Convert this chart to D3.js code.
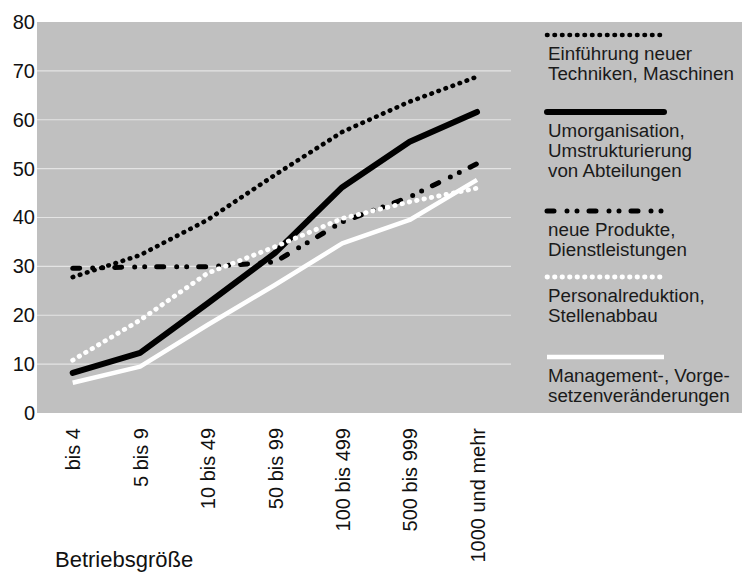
<!DOCTYPE html>
<html><head><meta charset="utf-8">
<script src="https://cdn.jsdelivr.net/npm/d3@7"></script>
<style>
html,body{margin:0;padding:0;background:#fff;}
svg{display:block;font-family:"Liberation Sans",Arial,sans-serif;}
</style></head>
<body>
<svg id="chart" width="742" height="572"></svg>
<script>
const categories = ["bis 4","5 bis 9","10 bis 49","50 bis 99","100 bis 499","500 bis 999","1000 und mehr"];
const yTicks = [0,10,20,30,40,50,60,70,80];
const seriesNames = [
  ["Einführung neuer","Techniken, Maschinen"],
  ["Umorganisation,","Umstrukturierung","von Abteilungen"],
  ["neue Produkte,","Dienstleistungen"],
  ["Personalreduktion,","Stellenabbau"],
  ["Management-, Vorge-","setzenveränderungen"]
];
const einfuehrung   = [27.8, 32.3, 39.5, 48.7, 57.5, 63.7, 68.8];
const umorganisation= [8.2, 12.3, 22.4, 32.7, 46.2, 55.5, 61.6];
const neueProdukte  = [29.6, 29.9, 29.9, 30.9, 39.1, 44.2, 51.0];
const personal      = [10.8, 19.0, 28.6, 34.0, 39.8, 43.2, 46.0];
const management    = [6.2, 9.5, 18.0, 26.2, 34.7, 39.5, 47.7];
const xTitle = "Betriebsgröße";

const seriesValues = [einfuehrung, umorganisation, neueProdukte, personal, management];
const styles = [
  {color:"#000", width:4.6, dash:"0.5 7",            cap:"round"},
  {color:"#000", width:6,   dash:null,               cap:"round"},
  {color:"#000", width:5,   dash:"7 13 0 10 0 12",   cap:"round"},
  {color:"#fff", width:4.8, dash:"0.5 7",            cap:"round"},
  {color:"#fff", width:4.5, dash:null,               cap:"butt"}
];
const legendLineY = [35, 112, 211, 277, 357];

const svg = d3.select("#chart");
const panel = {x0:37, x1:742, y0:22, y1:413};
svg.append("rect").attr("x",panel.x0).attr("y",panel.y0)
  .attr("width",panel.x1-panel.x0).attr("height",panel.y1-panel.y0).attr("fill","#c0c0c0");

const x = d3.scalePoint().domain(categories).range([72.7, 477]);
const y = d3.scaleLinear().domain([0,80]).range([panel.y1, panel.y0]);

// gridlines
svg.append("g").selectAll("line").data(yTicks.filter(t=>t>0 && t<80)).join("line")
  .attr("x1",panel.x0).attr("x2",511)
  .attr("y1",d=>y(d)).attr("y2",d=>y(d))
  .attr("stroke","#e4e4e4").attr("stroke-width",1.2);

// y axis
const yAxis = svg.append("g").attr("transform",`translate(${panel.x0-2},0)`)
  .call(d3.axisLeft(y).tickValues(yTicks).tickSize(0).tickPadding(0));
yAxis.select(".domain").remove();
yAxis.selectAll("text").attr("font-size",20).attr("fill","#111")
  .attr("font-family","Liberation Sans, Arial, sans-serif");

// x axis
const xAxis = svg.append("g").attr("transform",`translate(0,${panel.y1})`)
  .call(d3.axisBottom(x).tickSize(0).tickPadding(0));
xAxis.select(".domain").remove();
xAxis.selectAll("text")
  .attr("font-size",20).attr("fill","#111")
  .attr("font-family","Liberation Sans, Arial, sans-serif")
  .attr("text-anchor","end")
  .attr("transform","rotate(-90)")
  .attr("x",-15).attr("y",0).attr("dy","0.36em");

svg.append("text").attr("x",55).attr("y",567).attr("font-size",22)
  .attr("fill","#111").text(xTitle);

// lines
const line = d3.line().x((d,i)=>x(categories[i])).y(d=>y(d));
seriesValues.forEach((vals,k)=>{
  const s = styles[k];
  svg.append("path").datum(vals).attr("d",line)
    .attr("fill","none").attr("stroke",s.color).attr("stroke-width",s.width)
    .attr("stroke-dasharray",s.dash).attr("stroke-linecap",s.cap)
    .attr("stroke-linejoin","round");
});

// legend
seriesNames.forEach((lines,k)=>{
  const s = styles[k];
  const ly = legendLineY[k];
  svg.append("line").attr("x1",547).attr("x2",664).attr("y1",ly).attr("y2",ly)
    .attr("stroke",s.color).attr("stroke-width",s.width)
    .attr("stroke-dasharray",s.dash).attr("stroke-linecap",s.cap);
  const t = svg.append("text").attr("font-size",18.8).attr("fill","#1a1a1a");
  lines.forEach((ln,j)=>{
    t.append("tspan").attr("x",548).attr("y",ly+25+j*20).text(ln);
  });
});
</script>
</body></html>
